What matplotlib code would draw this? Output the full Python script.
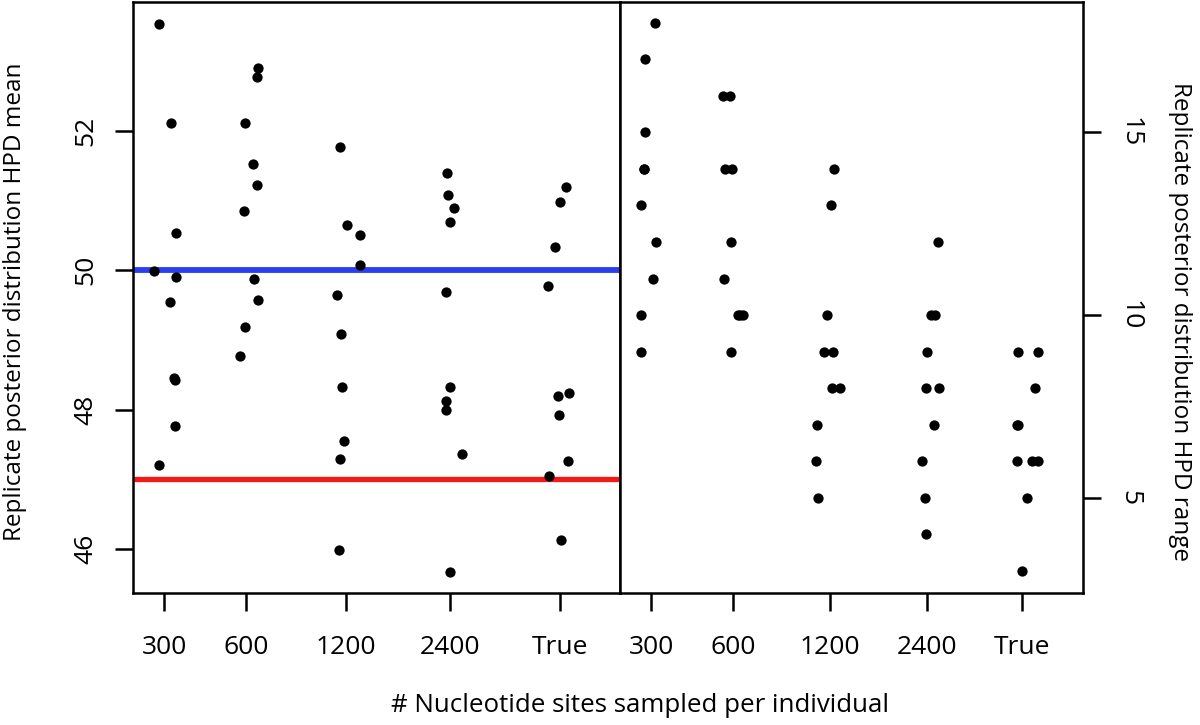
import matplotlib
matplotlib.use("Agg")
import matplotlib.pyplot as plt
import numpy as np

plt.rcParams['font.family'] = ['Open Sans', 'DejaVu Sans']

# ---------------- data ----------------
categories = ["300", "600", "1200", "2400", "True"]

# category tick positions (axis units) in each panel
pos_mean = [0.31, 1.13, 2.13, 3.17, 4.27]
pos_range = [0.31, 1.13, 2.10, 3.07, 4.02]

# Replicate posterior distribution HPD mean (left panel)
mean_300 = [53.54, 52.12, 50.54, 49.99, 49.91, 49.54, 48.46, 48.42, 47.77, 47.20]
mean_600 = [52.90, 52.78, 52.11, 51.53, 51.22, 50.85, 49.87, 49.57, 49.19, 48.77]
mean_1200 = [51.77, 50.65, 50.50, 50.07, 49.64, 49.08, 48.32, 47.55, 47.29, 45.98]
mean_2400 = [51.40, 51.08, 50.89, 50.69, 49.69, 48.32, 48.12, 47.99, 47.36, 45.67]
mean_true = [51.19, 50.98, 50.33, 49.78, 48.24, 48.19, 47.92, 47.27, 47.05, 46.13]

# horizontal jitter of each point (axis units)
jit_mean_300 = [-0.05, 0.07, 0.12, -0.10, 0.12, 0.06, 0.10, 0.11, 0.11, -0.05]
jit_mean_600 = [0.12, 0.11, -0.01, 0.07, 0.11, -0.02, 0.08, 0.12, -0.01, -0.06]
jit_mean_1200 = [-0.06, 0.01, 0.14, 0.14, -0.09, -0.05, -0.04, -0.02, -0.06, -0.07]
jit_mean_2400 = [-0.03, -0.02, 0.04, 0.00, -0.04, 0.00, -0.04, -0.04, 0.12, 0.00]
jit_mean_true = [0.06, 0.00, -0.05, -0.12, 0.09, -0.02, -0.01, 0.08, -0.11, 0.01]

# Replicate posterior distribution HPD range (right panel)
range_300 = [18, 17, 15, 14, 14, 13, 12, 11, 10, 9]
range_600 = [16, 16, 14, 14, 12, 11, 10, 10, 10, 9]
range_1200 = [14, 13, 10, 9, 9, 8, 8, 7, 6, 5]
range_2400 = [12, 10, 10, 9, 8, 8, 7, 6, 5, 4]
range_true = [9, 9, 8, 7, 7, 6, 6, 6, 5, 3]

jit_range_300 = [0.04, -0.06, -0.06, -0.07, -0.07, -0.10, 0.05, 0.02, -0.10, -0.10]
jit_range_600 = [-0.10, -0.03, -0.08, -0.01, -0.02, -0.09, 0.05, 0.10, 0.07, -0.02]
jit_range_1200 = [0.04, 0.01, -0.03, -0.06, 0.03, 0.02, 0.10, -0.13, -0.14, -0.12]
jit_range_2400 = [0.11, 0.04, 0.08, 0.00, -0.01, 0.12, 0.07, -0.05, -0.02, -0.01]
jit_range_true = [-0.04, 0.16, 0.13, -0.05, -0.04, -0.05, 0.10, 0.16, 0.05, 0.00]

true_mean = 50.0      # blue reference line
other_mean = 47.0     # red reference line

# ---------------- figure ----------------
W, H = 1200, 725
fig = plt.figure(figsize=(W / 100, H / 100), dpi=100)

def fr(x0, y0, x1, y1):
    return [x0 / W, 1 - y1 / H, (x1 - x0) / W, (y1 - y0) / H]

axL = fig.add_axes(fr(133, 2, 620, 593))
axR = fig.add_axes(fr(620, 2, 1083, 593))

mean_groups = [mean_300, mean_600, mean_1200, mean_2400, mean_true]
jit_mean = [jit_mean_300, jit_mean_600, jit_mean_1200, jit_mean_2400, jit_mean_true]
range_groups = [range_300, range_600, range_1200, range_2400, range_true]
jit_range = [jit_range_300, jit_range_600, jit_range_1200, jit_range_2400, jit_range_true]

ms = 7.4
for p, vals, jit in zip(pos_mean, mean_groups, jit_mean):
    axL.plot(np.array(jit) + p, vals, 'o', color='black', ms=ms, mew=0, zorder=3)
for p, vals, jit in zip(pos_range, range_groups, jit_range):
    axR.plot(np.array(jit) + p, vals, 'o', color='black', ms=ms, mew=0, zorder=3)

axL.axhline(true_mean, color='#2B3FF0', lw=4.2, zorder=2)
axL.axhline(other_mean, color='#F51818', lw=3.8, zorder=2)

axL.set_xlim(0, 4.87)
axR.set_xlim(0, 4.63)
axL.set_ylim(45.37, 53.85)
axR.set_ylim(2.39, 18.57)

for ax, pos in ((axL, pos_mean), (axR, pos_range)):
    ax.set_xticks(pos)
    ax.set_xticklabels(categories)
    for s in ax.spines.values():
        s.set_linewidth(1.8)
        s.set_color('black')
    ax.tick_params(axis='both', direction='out', length=13, width=1.8,
                   labelsize=19, pad=17, colors='black')

axL.set_yticks([46, 48, 50, 52])
axL.set_yticklabels(["46", "48", "50", "52"], rotation=90, va='center')
axR.yaxis.tick_right()
axR.set_yticks([5, 10, 15])
axR.set_yticklabels(["5", "10", "15"], rotation=-90, va='center')
axL.tick_params(axis='y', pad=12)
axR.tick_params(axis='y', pad=12)

axL.set_ylabel("Replicate posterior distribution HPD mean", fontsize=17.5,
               va='center')
axL.yaxis.set_label_coords(-118 / 487, 0.492)
axR.yaxis.set_label_position('right')
axR.set_ylabel("Replicate posterior distribution HPD range", fontsize=17.5,
               rotation=-90, va='center')
axR.yaxis.set_label_coords(1 + 97 / 463, 0.46)

fig.text(640 / W, 1 - 705 / H, "# Nucleotide sites sampled per individual",
         ha='center', va='center', fontsize=18.6)

fig.savefig("out.png", dpi=100, facecolor='white')
